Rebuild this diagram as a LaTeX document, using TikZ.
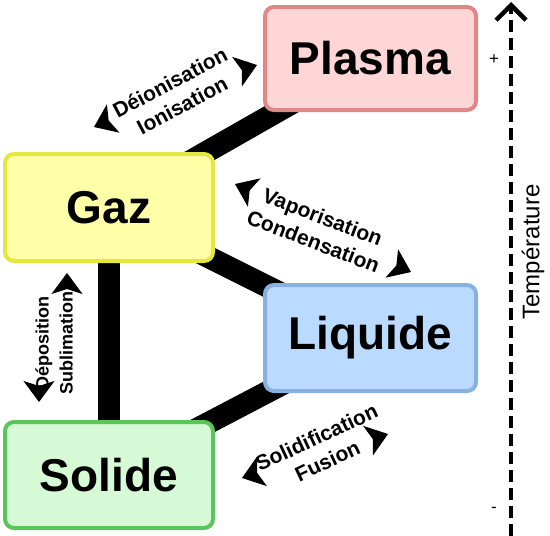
\documentclass[tikz,border=0pt]{standalone}
\usepackage{fontspec}
\setmainfont{Liberation Sans}
\usetikzlibrary{arrows.meta}
\definecolor{plfill}{HTML}{FFD6D6}
\definecolor{pldraw}{HTML}{E08888}
\definecolor{gzfill}{HTML}{FFFFA8}
\definecolor{gzdraw}{HTML}{E6E640}
\definecolor{lqfill}{HTML}{BBDAFF}
\definecolor{lqdraw}{HTML}{88B0E0}
\definecolor{sofill}{HTML}{D5FAD5}
\definecolor{sodraw}{HTML}{5BC45B}
\tikzset{
  statebox/.style={rectangle, rounded corners=9pt, line width=4pt, inner sep=0pt,
    font=\fontsize{46}{50}\selectfont\bfseries},
  band/.style={line width=22pt, black},
  trlabel/.style={align=center, inner sep=0pt, font=\fontsize{21}{26}\selectfont\bfseries},
  trlabelv/.style={align=center, inner sep=0pt, font=\fontsize{18}{24}\selectfont\bfseries},
  tip/.style={line width=1pt, -{Stealth[length=21pt,width=31pt,inset=5pt]}},
}
\begin{document}
\begin{tikzpicture}[x=1pt,y=-1pt]
\useasboundingbox (0,0) rectangle (550,536);
% boxes (positions)
\coordinate (cpl) at (370.5,58.5);
\coordinate (cgz) at (109,207.5);
\coordinate (clq) at (370.5,338);
\coordinate (cso) at (109,475);
% bands
\draw[band] (cgz) -- (cpl);
\draw[band] (cgz) -- (clq);
\draw[band] (cgz) -- (cso);
\draw[band] (cso) -- (clq);
% nodes
\node[statebox, fill=plfill, draw=pldraw, minimum width=211pt, minimum height=103pt] (plasma) at (cpl) {Plasma};
\node[statebox, fill=gzfill, draw=gzdraw, minimum width=208pt, minimum height=107pt] (gaz) at (cgz) {Gaz};
\node[statebox, fill=lqfill, draw=lqdraw, minimum width=211pt, minimum height=106pt] (liquide) at (clq) {Liquide};
\node[statebox, fill=sofill, draw=sodraw, minimum width=208pt, minimum height=106pt] (solide) at (cso) {Solide};
% transition labels
\node[trlabel, rotate=28] (ion) at (176,94) {Déionisation\\Ionisation};
\node[trlabel, rotate=-21] (vap) at (318,229) {Vaporisation\\Condensation};
\node[trlabel, rotate=25] (sol) at (322,449) {Solidification\\Fusion};
\node[trlabelv, rotate=90] (sub) at (54,343) {Déposition\\Sublimation};
% arrow heads
\coordinate (ionA) at (94,127); \coordinate (ionAb) at (103,123);
\coordinate (ionB) at (257,65); \coordinate (ionBb) at (248,68);
\draw[tip] (ionAb) -- (ionA);
\draw[tip] (ionBb) -- (ionB);
\coordinate (vapA) at (235,184); \coordinate (vapAb) at (244,188);
\coordinate (vapB) at (411,272); \coordinate (vapBb) at (402,268);
\draw[tip] (vapAb) -- (vapA);
\draw[tip] (vapBb) -- (vapB);
\coordinate (solA) at (242,478); \coordinate (solAb) at (251,475);
\coordinate (solB) at (388,434); \coordinate (solBb) at (379,437);
\draw[tip] (solAb) -- (solA);
\draw[tip] (solBb) -- (solB);
\coordinate (subA) at (67,273); \coordinate (subAb) at (67,282);
\coordinate (subB) at (39,402); \coordinate (subBb) at (39,393);
\draw[tip] (subAb) -- (subA);
\draw[tip] (subBb) -- (subB);
% temperature axis
\coordinate (tbot) at (511,536);
\coordinate (ttop) at (511,2);
\draw[line width=4.5pt, dash pattern=on 12pt off 6pt, -{Straight Barb[length=15pt,width=30pt]}] (tbot) -- (ttop);
\node[font=\fontsize{24}{28}\selectfont, rotate=90, inner sep=0pt] (temp) at (533,252) {Température};
\node[font=\fontsize{17}{20}\selectfont, inner sep=0pt] (plus) at (494,60) {+};
\node[font=\fontsize{17}{20}\selectfont, inner sep=0pt] (minus) at (494,510) {-};
\end{tikzpicture}
\end{document}
